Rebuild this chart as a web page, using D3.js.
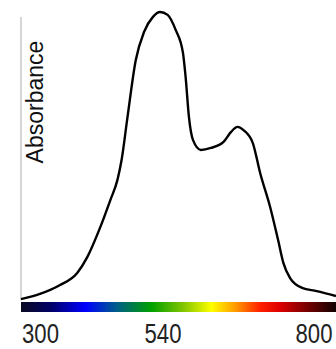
<!DOCTYPE html>
<html>
<head>
<meta charset="utf-8">
<script src="https://cdn.jsdelivr.net/npm/d3@7"></script>
<style>
html,body{margin:0;padding:0;background:#fff;}
svg{display:block;}
</style>
</head>
<body>
<svg id="chart" width="336" height="349"></svg>
<script>
const wavelengths = [300,332,366,395,412,434,451,463,470,480,494,508,523,535,547,559,570,574,579,585,597,612,631,642,652,661,675,686,701,713,721,731,749,771,800];
const absorbance  = [0.003,0.021,0.052,0.094,0.149,0.253,0.347,0.417,0.486,0.635,0.833,0.931,0.983,1.0,0.990,0.938,0.858,0.774,0.635,0.556,0.521,0.528,0.549,0.583,0.601,0.590,0.545,0.441,0.323,0.208,0.128,0.076,0.042,0.031,0.014];
const tickLabels = [300,540,800];
const yLabel = "Absorbance";
const spectrumWavelengths = [300,350,409,460,520,570,613,647,686,716,753,800];
const spectrumColors = ["#0a0a22","#000066","#0000ff","#005c8c","#00a000","#80c400","#ffff00","#ffa000","#ff2000","#dd0000","#800000","#100000"];

const svg = d3.select("#chart");
const x = d3.scaleLinear().domain([300,540,800]).range([21,163,336]);
const y = d3.scaleLinear().domain([0,1]).range([300,12]);

// gradient
const defs = svg.append("defs");
const grad = defs.append("linearGradient").attr("id","spec")
  .attr("gradientUnits","userSpaceOnUse")
  .attr("x1",x(300)).attr("x2",x(800)).attr("y1",0).attr("y2",0);
grad.selectAll("stop").data(spectrumWavelengths).join("stop")
  .attr("offset",d=>(x(d)-x(300))/(x(800)-x(300)))
  .attr("stop-color",(d,i)=>spectrumColors[i]);

// y axis line
svg.append("line").attr("x1",x(300)).attr("x2",x(300))
  .attr("y1",17).attr("y2",y(0)).attr("stroke","#c8c8c8").attr("stroke-width",1.5);

// spectrum bar
svg.append("rect").attr("x",x(300)).attr("y",302).attr("width",x(800)-x(300)).attr("height",10)
  .attr("fill","url(#spec)");

// curve
const pts = wavelengths.map((w,i)=>[w,absorbance[i]]);
svg.append("path").datum(pts)
  .attr("d",d3.line().x(d=>x(d[0])).y(d=>y(d[1])).curve(d3.curveMonotoneX))
  .attr("fill","none").attr("stroke","#000").attr("stroke-width",2.4).attr("stroke-linejoin","round");

// y label
svg.append("text").attr("transform",`translate(43,${102}) rotate(-90)`)
  .attr("text-anchor","middle").attr("font-family","Liberation Sans, Arial, sans-serif")
  .attr("font-size",23).attr("fill","#111").text(yLabel);

// tick labels (condensed, edge labels shifted inward)
const labelShift = [19.5, 0, -22];
svg.selectAll("text.tick").data(tickLabels).join("text").attr("class","tick")
  .attr("transform",(d,i)=>`translate(${x(d) + labelShift[i]},343) scale(0.82,1)`)
  .attr("text-anchor","middle")
  .attr("font-family","Liberation Sans, Arial, sans-serif")
  .attr("font-size",27).attr("fill","#222").text(d=>d);
</script>
</body>
</html>
